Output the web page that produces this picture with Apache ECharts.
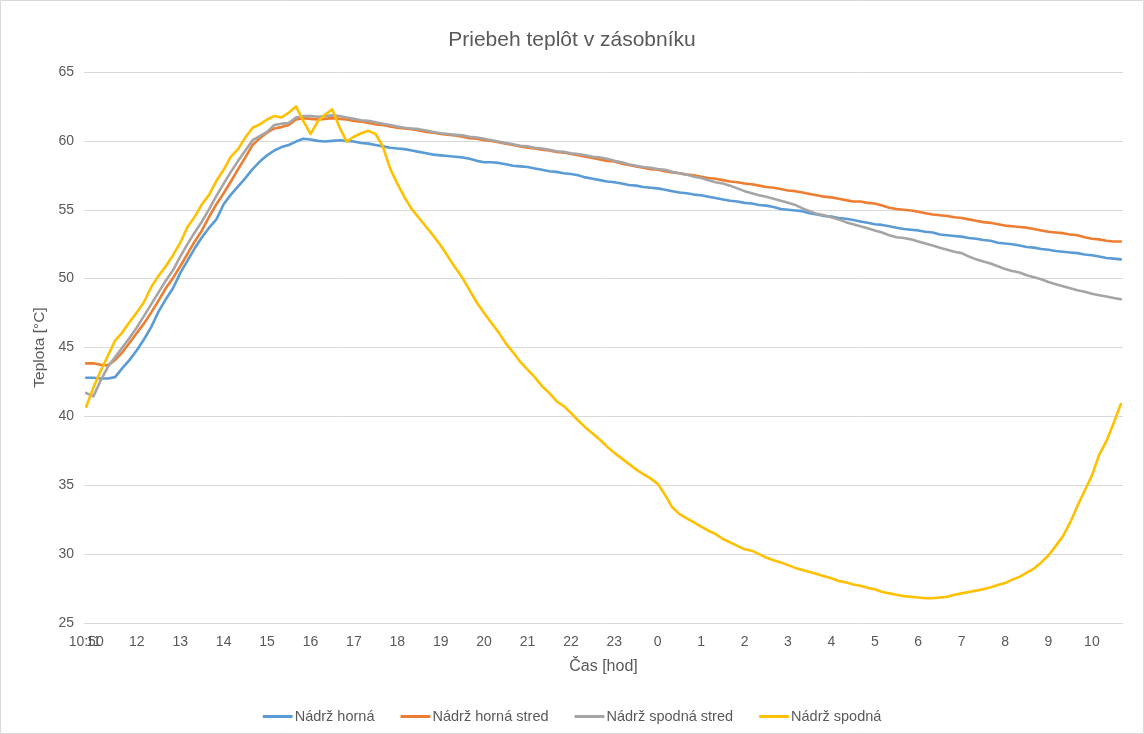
<!DOCTYPE html>
<html>
<head>
<meta charset="utf-8">
<title>Priebeh teplôt v zásobníku</title>
<script src="https://cdn.jsdelivr.net/npm/echarts@6/dist/echarts.min.js"></script>
<style>
  html, body { margin: 0; padding: 0; background: #ffffff; }
  #chart { width: 1144px; height: 734px; }
</style>
</head>
<body>
<div id="chart"></div>
<script>
// Measurement start and sampling step of the logger
const startTime = '10:50';
const stepMinutes = 10;

// Labels shown under the time axis (hours, day rolls over after 23)
const xTickLabels = ['10:50', '11', '12', '13', '14', '15', '16', '17', '18', '19', '20', '21', '22', '23',
  '0', '1', '2', '3', '4', '5', '6', '7', '8', '9', '10'];

const seriesNames = ['Nádrž horná', 'Nádrž horná stred', 'Nádrž spodná stred', 'Nádrž spodná'];
const seriesColors = ['#5B9BD5', '#ED7D31', '#A5A5A5', '#FFC000'];

// Temperatures [°C], one value every 10 minutes
const hornaValues = [
  42.8, 42.8, 42.75, 42.75, 42.85, 43.5, 44.1, 44.8, 45.6, 46.5,
  47.6, 48.5, 49.3, 50.4, 51.3, 52.2, 53.0, 53.7, 54.3, 55.4,
  56.1, 56.7, 57.3, 57.95, 58.5, 58.95, 59.3, 59.55, 59.7, 59.95,
  60.15, 60.1, 60.0, 59.95, 60.0, 60.05, 60.0, 59.95, 59.85, 59.8,
  59.7, 59.6, 59.5, 59.45, 59.4, 59.3, 59.2, 59.1, 59.0, 58.95,
  58.9, 58.85, 58.8, 58.7, 58.55, 58.45, 58.45, 58.4, 58.3, 58.2,
  58.15, 58.1, 58.0, 57.9, 57.8, 57.75, 57.65, 57.6, 57.5, 57.35,
  57.25, 57.15, 57.05, 57.0, 56.9, 56.8, 56.75, 56.65, 56.6, 56.55,
  56.45, 56.35, 56.25, 56.2, 56.1, 56.05, 55.95, 55.85, 55.75, 55.65,
  55.6, 55.5, 55.45, 55.35, 55.3, 55.2, 55.05, 55.0, 54.95, 54.9,
  54.75, 54.65, 54.55, 54.5, 54.4, 54.35, 54.25, 54.15, 54.05, 53.95,
  53.9, 53.8, 53.7, 53.6, 53.55, 53.5, 53.4, 53.35, 53.2, 53.15,
  53.1, 53.05, 52.95, 52.9, 52.8, 52.75, 52.6, 52.55, 52.5, 52.4,
  52.3, 52.25, 52.15, 52.1, 52.0, 51.95, 51.9, 51.85, 51.75, 51.7,
  51.6, 51.5, 51.45, 51.4
];

const hornaStredValues = [
  43.85, 43.85, 43.75, 43.7, 44.1, 44.65, 45.35, 46.05, 46.75, 47.55,
  48.4, 49.3, 50.05, 50.9, 51.8, 52.7, 53.5, 54.5, 55.4, 56.2,
  57.05, 57.95, 58.8, 59.7, 60.2, 60.6, 60.9, 61.0, 61.15, 61.55,
  61.65, 61.6, 61.55, 61.6, 61.65, 61.6, 61.55, 61.45, 61.4, 61.3,
  61.2, 61.15, 61.05, 60.95, 60.9, 60.85, 60.75, 60.65, 60.6, 60.5,
  60.45, 60.4, 60.3, 60.2, 60.15, 60.05, 60.0, 59.9, 59.8, 59.7,
  59.6, 59.5, 59.45, 59.35, 59.3, 59.2, 59.15, 59.05, 58.95, 58.85,
  58.75, 58.65, 58.55, 58.5, 58.35, 58.25, 58.15, 58.05, 57.95, 57.9,
  57.8, 57.7, 57.65, 57.55, 57.5, 57.4, 57.3, 57.25, 57.15, 57.05,
  57.0, 56.9, 56.85, 56.75, 56.65, 56.6, 56.5, 56.4, 56.35, 56.25,
  56.15, 56.05, 55.95, 55.9, 55.8, 55.7, 55.6, 55.6, 55.5, 55.45,
  55.3, 55.15, 55.05, 55.0, 54.95, 54.85, 54.75, 54.65, 54.6, 54.55,
  54.45, 54.4, 54.3, 54.2, 54.1, 54.05, 53.95, 53.85, 53.8, 53.75,
  53.7, 53.6, 53.5, 53.4, 53.35, 53.3, 53.2, 53.15, 53.0, 52.9,
  52.85, 52.75, 52.7, 52.7
];

const spodnaStredValues = [
  41.7, 41.45, 42.6, 43.6, 44.3, 45.0, 45.7, 46.45, 47.3, 48.15,
  49.0, 49.85, 50.6, 51.6, 52.5, 53.35, 54.15, 55.05, 56.0, 56.9,
  57.75, 58.55, 59.3, 60.05, 60.35, 60.65, 61.15, 61.25, 61.3, 61.7,
  61.8, 61.8, 61.75, 61.8, 61.85, 61.8, 61.7, 61.6, 61.5, 61.45,
  61.35, 61.25, 61.15, 61.05, 60.95, 60.9, 60.85, 60.75, 60.65, 60.55,
  60.5, 60.45, 60.4, 60.3, 60.25, 60.15, 60.05, 59.95, 59.85, 59.75,
  59.65, 59.6, 59.5, 59.45, 59.35, 59.25, 59.2, 59.1, 59.05, 58.95,
  58.85, 58.8, 58.7, 58.55, 58.45, 58.3, 58.2, 58.1, 58.05, 57.95,
  57.9, 57.75, 57.65, 57.55, 57.4, 57.3, 57.15, 57.0, 56.9, 56.75,
  56.55, 56.35, 56.2, 56.05, 55.95, 55.8, 55.65, 55.5, 55.35, 55.1,
  54.9, 54.7, 54.6, 54.45, 54.3, 54.1, 53.95, 53.8, 53.65, 53.5,
  53.35, 53.15, 53.0, 52.95, 52.85, 52.7, 52.55, 52.4, 52.25, 52.1,
  51.95, 51.85, 51.6, 51.4, 51.25, 51.1, 50.9, 50.7, 50.55, 50.45,
  50.25, 50.1, 49.95, 49.75, 49.6, 49.45, 49.3, 49.15, 49.05, 48.9,
  48.8, 48.7, 48.6, 48.5
];

const spodnaValues = [
  40.7, 42.1, 43.3, 44.4, 45.5, 46.1, 46.85, 47.55, 48.3, 49.4,
  50.2, 50.9, 51.7, 52.6, 53.75, 54.5, 55.4, 56.1, 57.1, 57.9,
  58.85, 59.4, 60.25, 60.95, 61.2, 61.55, 61.8, 61.7, 62.05, 62.5,
  61.45, 60.5, 61.4, 61.9, 62.3, 61.0, 59.95, 60.3, 60.55, 60.73,
  60.5, 59.6, 58.0, 56.9, 55.9, 55.04, 54.4, 53.75, 53.1, 52.4,
  51.6, 50.8, 50.05, 49.15, 48.25, 47.5, 46.8, 46.1, 45.3, 44.65,
  43.95, 43.4, 42.85, 42.2, 41.7, 41.1, 40.75, 40.25, 39.7, 39.2,
  38.75, 38.3, 37.8, 37.35, 36.95, 36.55, 36.15, 35.8, 35.5, 35.1,
  34.3, 33.4, 32.9, 32.6, 32.3, 32.0, 31.7, 31.45, 31.1, 30.85,
  30.6, 30.35, 30.25, 30.0, 29.75, 29.55, 29.4, 29.2, 29.0, 28.85,
  28.7, 28.55, 28.4, 28.25, 28.05, 27.95, 27.8, 27.7, 27.55, 27.45,
  27.25, 27.15, 27.05, 26.95, 26.9, 26.85, 26.8, 26.8, 26.85, 26.9,
  27.05, 27.15, 27.25, 27.35, 27.45, 27.6, 27.75, 27.9, 28.15, 28.35,
  28.65, 28.95, 29.4, 29.9, 30.6, 31.3, 32.3, 33.5, 34.6, 35.7,
  37.2, 38.2, 39.5, 40.9
];

const seriesValues = [hornaValues, hornaStredValues, spodnaStredValues, spodnaValues];

// Time helpers: minutes counted from midnight of the first day
function parseClock(label) {
  const parts = label.split(':');
  return Number(parts[0]) * 60 + (parts.length > 1 ? Number(parts[1]) : 0);
}
const startMinute = parseClock(startTime);

// Positions of the axis labels, rolling into the next day when the clock wraps
const tickMinutes = [];
let dayOffset = 0;
xTickLabels.forEach(function (lbl, k) {
  let m = parseClock(lbl) + dayOffset;
  if (k > 0 && m < tickMinutes[k - 1]) { dayOffset += 1440; m += 1440; }
  tickMinutes.push(m);
});
const labelByMinute = {};
tickMinutes.forEach(function (m, k) { labelByMinute[m] = xTickLabels[k]; });
// The start stamp sits on its own axis so it can share space with the first full hour
const hourTickMinutes = tickMinutes.filter(function (m) { return m !== startMinute; });

const sampleCount = hornaValues.length;
const lastMinute = startMinute + (sampleCount - 1) * stepMinutes;
const axisMin = startMinute - 3;
const axisMax = lastMinute + 3;

const textColor = '#595959';
const gridColor = '#D9D9D9';
const baseFont = 'Liberation Sans, Arial, sans-serif';
const tickFontSize = 14;

function labelFor(v) { return labelByMinute[v] !== undefined ? labelByMinute[v] : ''; }

const chart = echarts.init(document.getElementById('chart'), null, { renderer: 'canvas' });

const series = seriesNames.map(function (name, s) {
  return {
    name: name,
    type: 'line',
    xAxisIndex: 0,
    showSymbol: false,
    symbol: 'none',
    smooth: false,
    animation: false,
    color: seriesColors[s],
    lineStyle: { width: 2.6, color: seriesColors[s], cap: 'round', join: 'round' },
    data: seriesValues[s].map(function (v, k) { return [startMinute + k * stepMinutes, v]; })
  };
});

chart.setOption({
  backgroundColor: '#ffffff',
  animation: false,
  textStyle: { fontFamily: baseFont },
  title: {
    text: 'Priebeh teplôt v zásobníku',
    left: 'center',
    top: 25,
    textStyle: { color: textColor, fontSize: 21, fontWeight: 'normal', fontFamily: baseFont }
  },
  legend: {
    data: seriesNames,
    left: 'center',
    top: 704,
    icon: 'roundRect',
    itemWidth: 30,
    itemHeight: 3,
    itemGap: 26,
    textStyle: { color: textColor, fontSize: 14.5, fontFamily: baseFont, padding: [0, 0, 0, -3] }
  },
  grid: { left: 84, right: 21, top: 72, bottom: 111, containLabel: false },
  xAxis: [{
    type: 'value',
    min: axisMin,
    max: axisMax,
    name: 'Čas [hod]',
    nameLocation: 'middle',
    nameGap: 36,
    nameTextStyle: { color: textColor, fontSize: 16, fontFamily: baseFont },
    axisLine: { show: true, lineStyle: { color: gridColor, width: 1 } },
    axisTick: { show: false },
    splitLine: { show: false },
    axisLabel: {
      customValues: hourTickMinutes,
      color: textColor,
      fontSize: tickFontSize,
      margin: 12,
      hideOverlap: false,
      formatter: labelFor
    }
  }, {
    type: 'value',
    min: axisMin,
    max: axisMax,
    position: 'bottom',
    axisLine: { show: false },
    axisTick: { show: false },
    splitLine: { show: false },
    axisLabel: {
      customValues: [startMinute],
      color: textColor,
      fontSize: tickFontSize,
      margin: 12,
      formatter: labelFor
    }
  }],
  yAxis: {
    type: 'value',
    min: 25,
    max: 65,
    interval: 5,
    name: 'Teplota [°C]',
    nameLocation: 'middle',
    nameGap: 31,
    nameTextStyle: { color: textColor, fontSize: 15.5, fontFamily: baseFont },
    axisLine: { show: false },
    axisTick: { show: false },
    axisLabel: { color: textColor, fontSize: tickFontSize, margin: 10 },
    splitLine: { show: true, lineStyle: { color: gridColor, width: 1 } }
  },
  graphic: [{
    type: 'rect',
    silent: true,
    shape: { x: 0.5, y: 0.5, width: 1143, height: 733 },
    style: { fill: 'none', stroke: gridColor, lineWidth: 1 }
  }],
  series: series
});
</script>
</body>
</html>
